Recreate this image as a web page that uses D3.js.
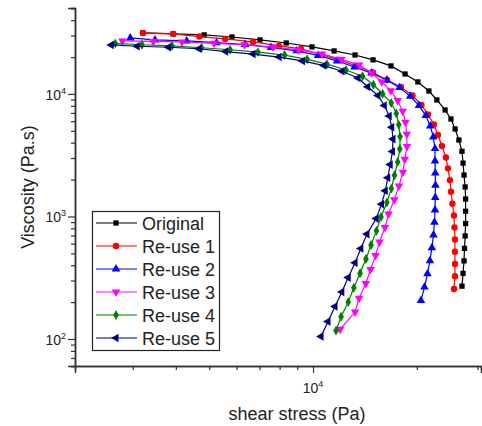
<!DOCTYPE html>
<html>
<head>
    <title>Viscosity vs shear stress</title>
    <script src="https://d3js.org/d3.v7.min.js"></script>
    <style>
        body { margin: 0; background: #fff; }
        text { font-family: "Liberation Sans", Arial, sans-serif; fill: #222; }
        .domain { stroke: #333; stroke-width: 1.5px; }
        .tick line { stroke: #333; stroke-width: 1.2px; }
    </style>
</head>
<body>
    <script>
        const seriesNames = ["Original", "Re-use 1", "Re-use 2", "Re-use 3", "Re-use 4", "Re-use 5"];
        const seriesColors = ["#000000", "#ff0000", "#0000ff", "#ff00ff", "#008000", "#000080"];

        // shear stress (Pa) per series
        const stressOriginal = [3210, 3930, 4830, 5820, 7020, 8360, 9930, 11510, 13240, 14930, 16830, 18490, 20140, 21680, 22860, 24150, 25120, 25820, 26490, 27040, 27230, 27410, 27610, 27700, 27700, 27700, 27610, 27500, 27410, 27230, 27040];
        const stressReuse1 = [3210, 3930, 4680, 5560, 6700, 7970, 9230, 10620, 11900, 13330, 14920, 16390, 17990, 19430, 20630, 21540, 22420, 23030, 23650, 24290, 24620, 24950, 25120, 25370, 25630, 25720, 25800, 25800, 25800, 25800, 25630];
        const stressReuse2 = [2950, 3480, 4300, 5250, 6350, 7550, 8960, 10340, 11740, 13190, 14770, 16370, 17820, 19140, 20290, 21220, 21880, 22320, 22580, 22580, 22620, 22650, 22620, 22580, 22500, 22350, 22120, 21830, 21470, 21050, 20560];
        const stressReuse3 = [2800, 3440, 4170, 5160, 6330, 7660, 9080, 10620, 12080, 13600, 14790, 15830, 16810, 17600, 18200, 18540, 18700, 18730, 18450, 18230, 17750, 17210, 16560, 16170, 15590, 15180, 14680, 14230, 13600, 13240, 11980];
        const stressReuse4 = [2670, 3190, 3900, 4750, 5750, 6920, 8270, 9610, 10980, 12460, 13920, 14960, 15910, 16860, 17440, 17720, 17880, 17850, 17600, 17230, 16870, 16370, 15740, 15270, 14730, 14240, 13690, 13130, 12650, 12060, 11660];
        const stressReuse5 = [2600, 3090, 3810, 4670, 5580, 6700, 7970, 9320, 10760, 12140, 13500, 14410, 15430, 16100, 16630, 16920, 17060, 17000, 16740, 16470, 16200, 15800, 15250, 14340, 13760, 13240, 12650, 12120, 11580, 11050, 10550];

        // viscosity (Pa.s) per series
        const viscOriginal = [31500, 30900, 30340, 29170, 27610, 26060, 24210, 22440, 20800, 18970, 16940, 14550, 12530, 10570, 8930, 7400, 6250, 5180, 4210, 3404, 2723, 2177, 1742, 1388, 1103, 876, 694, 549, 434, 343, 270];
        const viscReuse1 = [31500, 30900, 29420, 28120, 26580, 24650, 23300, 20820, 18950, 16930, 14980, 13010, 11410, 9720, 8130, 6810, 5640, 4630, 3760, 3030, 2470, 1980, 1590, 1270, 1020, 813, 648, 515, 409, 325, 256];
        const viscReuse2 = [28650, 27590, 27080, 26230, 25310, 23970, 22480, 20620, 18600, 16580, 14810, 12990, 11260, 9580, 8060, 6660, 5480, 4460, 3580, 2840, 2260, 1800, 1430, 1130, 896, 707, 556, 436, 340, 265, 206];
        const viscReuse3 = [27080, 26830, 26580, 25890, 25210, 24100, 22870, 21210, 19160, 17200, 14840, 12580, 10600, 8830, 7240, 5870, 4700, 3730, 2930, 2300, 1770, 1370, 1050, 812, 620, 480, 369, 284, 215, 166, 120];
        const viscReuse4 = [25840, 25210, 24650, 23830, 22950, 21940, 20780, 19160, 17510, 15700, 13950, 11890, 10040, 8440, 6940, 5610, 4490, 3560, 2790, 2170, 1690, 1300, 990, 764, 585, 450, 344, 262, 200, 152, 117];
        const viscReuse5 = [25120, 24510, 24060, 23390, 22190, 21170, 20010, 18600, 17050, 15320, 13510, 11450, 9720, 8060, 6610, 5350, 4280, 3390, 2650, 2070, 1620, 1260, 961, 718, 548, 419, 317, 242, 184, 139, 105];

        // axis ticks
        const xMajorTicks = [10000];
        const xMinorTicks = [3000, 4000, 5000, 6000, 7000, 8000, 9000, 20000, 30000];
        const yMajorTicks = [100, 1000, 10000];
        const yMinorTicks = [60, 70, 80, 90, 200, 300, 400, 500, 600, 700, 800, 900,
            2000, 3000, 4000, 5000, 6000, 7000, 8000, 9000, 20000, 30000, 40000, 50000];

        const stressSets = [stressOriginal, stressReuse1, stressReuse2, stressReuse3, stressReuse4, stressReuse5];
        const viscSets = [viscOriginal, viscReuse1, viscReuse2, viscReuse3, viscReuse4, viscReuse5];

        const series = seriesNames.map((name, k) => ({
            name,
            color: seriesColors[k],
            points: stressSets[k].map((s, i) => ({ s, v: viscSets[k][i] }))
        }));

        const W = 482, H = 426;
        const plot = { left: 75, right: 481, top: 8, bottom: 366 };

        const svg = d3.select("body").append("svg")
            .attr("width", W)
            .attr("height", H);

        const x = d3.scaleLog().domain([2040, 30700]).range([plot.left, plot.right]);
        const y = d3.scaleLog().domain([60.2, 50300]).range([plot.bottom, plot.top]);

        // marker shapes: square, circle, up, down, diamond, left
        const symbols = [
            { type: d3.symbolSquare, size: 28, rot: 0 },
            { type: d3.symbolCircle, size: 32, rot: 0 },
            { type: d3.symbolTriangle, size: 32, rot: 0 },
            { type: d3.symbolTriangle, size: 32, rot: 180 },
            { type: d3.symbolDiamond, size: 28, rot: 0 },
            { type: d3.symbolTriangle, size: 32, rot: -90 }
        ];

        // axes
        const exp = { 100: "2", 1000: "3", 10000: "4" };

        const xAxisG = svg.append("g").attr("transform", `translate(0,${plot.bottom})`);
        xAxisG.append("g").call(d3.axisBottom(x).tickValues(xMinorTicks).tickSize(4).tickFormat(""));
        xAxisG.append("g").call(d3.axisBottom(x).tickValues(xMajorTicks).tickSize(7).tickFormat(""));

        const yAxisG = svg.append("g").attr("transform", `translate(${plot.left},0)`);
        yAxisG.append("g").call(d3.axisLeft(y).tickValues(yMinorTicks).tickSize(4).tickFormat(""));
        yAxisG.append("g").call(d3.axisLeft(y).tickValues(yMajorTicks).tickSize(7).tickFormat(""));

        // power-of-ten labels with superscripts
        function powerLabel(g, xPos, yPos, anchor, e) {
            const t = g.append("text")
                .attr("x", xPos)
                .attr("y", yPos)
                .attr("text-anchor", anchor)
                .style("font-size", "14px");
            t.append("tspan").text("10");
            t.append("tspan").attr("dy", -6).style("font-size", "9px").text(e);
        }
        xMajorTicks.forEach(v => powerLabel(svg, x(v), plot.bottom + 27, "middle", exp[v]));
        yMajorTicks.forEach(v => powerLabel(svg, plot.left - 9, y(v) + 6, "end", exp[v]));

        // axis titles
        svg.append("text")
            .attr("x", 297)
            .attr("y", 420)
            .attr("text-anchor", "middle")
            .style("font-size", "18px")
            .text("shear stress (Pa)");

        svg.append("text")
            .attr("transform", `translate(34,${(plot.top + plot.bottom) / 2}) rotate(-90)`)
            .attr("text-anchor", "middle")
            .style("font-size", "18px")
            .text("Viscosity (Pa.s)");

        // curves
        const line = d3.line().x(d => x(d.s)).y(d => y(d.v));

        series.forEach((sr, k) => {
            const g = svg.append("g");
            g.append("path")
                .datum(sr.points)
                .attr("fill", "none")
                .attr("stroke", sr.color)
                .attr("stroke-width", 1.2)
                .attr("d", line);
            g.selectAll("path.mk")
                .data(sr.points)
                .join("path")
                .attr("class", "mk")
                .attr("d", d3.symbol().type(symbols[k].type).size(symbols[k].size))
                .attr("transform", d => `translate(${x(d.s)},${y(d.v)}) rotate(${symbols[k].rot})`)
                .attr("fill", sr.color);
        });

        // legend
        const legend = svg.append("g");
        legend.append("rect")
            .attr("x", 92.5)
            .attr("y", 211.5)
            .attr("width", 127)
            .attr("height", 139)
            .attr("fill", "#fff")
            .attr("stroke", "#222")
            .attr("stroke-width", 1.2);

        const entries = legend.selectAll("g.entry")
            .data(series)
            .join("g")
            .attr("class", "entry")
            .attr("transform", (d, i) => `translate(0,${223 + i * 23})`);

        entries.append("line")
            .attr("x1", 96)
            .attr("x2", 137)
            .attr("stroke", d => d.color)
            .attr("stroke-width", 1.2);

        entries.append("path")
            .attr("d", (d, i) => d3.symbol().type(symbols[i].type).size(symbols[i].size)())
            .attr("transform", (d, i) => `translate(116,0) rotate(${symbols[i].rot})`)
            .attr("fill", d => d.color);

        entries.append("text")
            .attr("x", 142)
            .attr("y", 6.5)
            .style("font-size", "18px")
            .text(d => d.name);
    </script>
</body>
</html>
